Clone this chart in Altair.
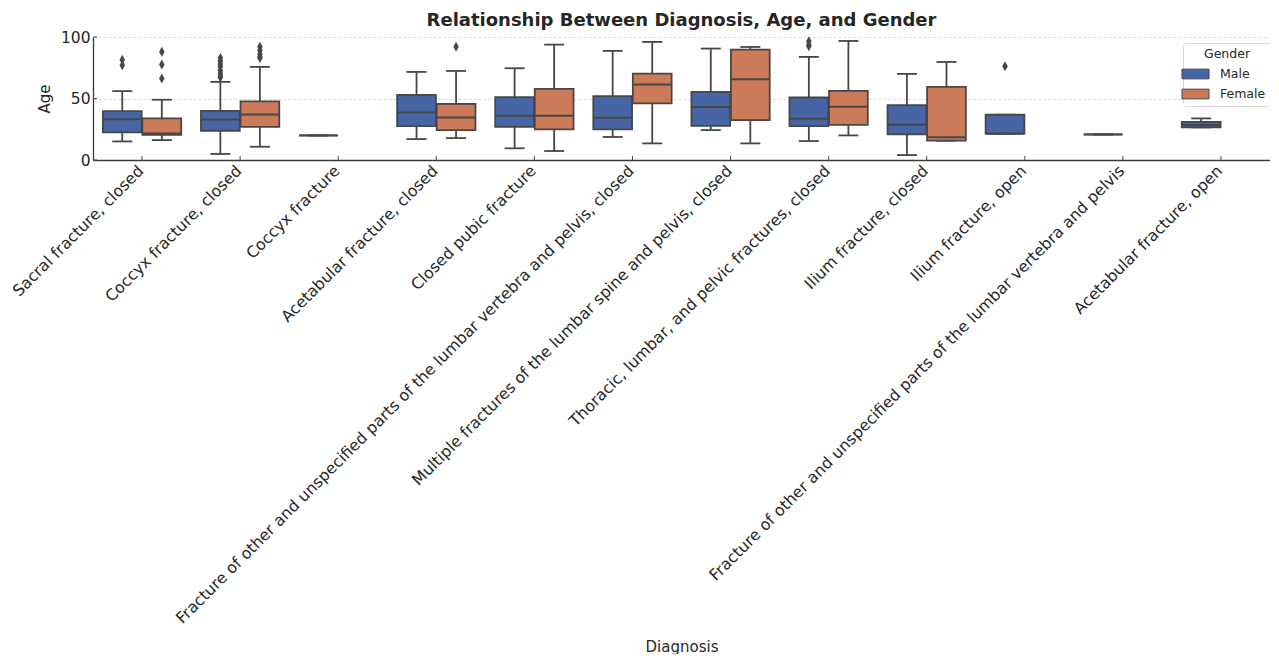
import altair as alt
import pandas as pd

diagnoses = [
    "Sacral fracture, closed",
    "Coccyx fracture, closed",
    "Coccyx fracture",
    "Acetabular fracture, closed",
    "Closed pubic fracture",
    "Fracture of other and unspecified parts of the lumbar vertebra and pelvis, closed",
    "Multiple fractures of the lumbar spine and pelvis, closed",
    "Thoracic, lumbar, and pelvic fractures, closed",
    "Ilium fracture, closed",
    "Ilium fracture, open",
    "Fracture of other and unspecified parts of the lumbar vertebra and pelvis",
    "Acetabular fracture, open",
]
genders = ["Male", "Female"]
colors = ["#4765A5", "#CC7B5A"]
edge = "#474747"

box_diag = [0, 0, 1, 1, 2, 3, 3, 4, 4, 5, 5, 6, 6, 7, 7, 8, 8, 9, 10, 11]
box_gender = ["Male", "Female", "Male", "Female", "Male", "Male", "Female", "Male", "Female",
              "Male", "Female", "Male", "Female", "Male", "Female", "Male", "Female", "Male",
              "Male", "Male"]
whisker_low = [15.1, 16.2, 4.9, 10.8, 20.0, 17.0, 17.8, 9.5, 7.3, 18.7, 13.5, 24.3, 13.5,
               15.4, 20.0, 4.0, 15.7, 21.4, 20.8, 26.5]
q1 = [22.4, 20.5, 23.8, 27.0, 20.0, 27.6, 24.3, 27.0, 24.9, 24.9, 46.0, 27.8, 32.4,
      27.6, 28.6, 20.8, 15.7, 21.4, 20.8, 26.5]
median = [33.2, 21.5, 33.0, 37.0, 20.0, 38.7, 34.6, 36.0, 36.0, 34.3, 61.4, 43.0, 65.7,
          33.5, 43.2, 28.6, 18.4, 21.4, 20.8, 28.4]
q3 = [39.7, 33.8, 40.0, 47.6, 20.0, 53.0, 45.7, 51.1, 57.8, 51.9, 70.3, 55.4, 89.7,
      50.8, 56.2, 44.6, 59.5, 36.8, 20.8, 31.0]
whisker_high = [56.0, 49.0, 63.5, 75.7, 20.0, 71.6, 72.4, 74.6, 93.8, 88.7, 96.0, 90.6, 91.9,
                83.8, 96.8, 70.0, 79.7, 36.8, 20.8, 33.8]

outlier_diag = [0, 0, 0, 0, 0, 1, 1, 1, 1, 1, 1, 1, 1, 1, 1, 1, 1, 1, 3, 7, 7, 7, 9]
outlier_gender = ["Male", "Male", "Female", "Female", "Female",
                  "Male", "Male", "Male", "Male", "Male", "Male", "Male", "Male",
                  "Female", "Female", "Female", "Female", "Female",
                  "Female", "Male", "Male", "Male", "Male"]
outlier_age = [81.6, 77.0, 88.0, 77.6, 66.2,
               83.0, 80.5, 78.0, 76.0, 73.0, 70.5, 68.5, 67.0,
               92.0, 89.0, 86.0, 84.0, 83.0,
               92.0, 96.5, 94.0, 92.5, 76.2]

y_ticks = [0, 50, 100]

W, H = 1177, 123

stats = pd.DataFrame({
    "Diagnosis": [diagnoses[i] for i in box_diag],
    "Gender": box_gender,
    "lo": whisker_low, "q1": q1, "med": median, "q3": q3, "hi": whisker_high,
})
outliers = pd.DataFrame({
    "Diagnosis": [diagnoses[i] for i in outlier_diag],
    "Gender": outlier_gender,
    "Age": outlier_age,
})
cats = pd.DataFrame({"Diagnosis": diagnoses})
yt = pd.DataFrame({"v": y_ticks})

xenc = alt.X("Diagnosis:N", sort=diagnoses,
             scale=alt.Scale(domain=diagnoses, paddingInner=0, paddingOuter=0),
             axis=alt.Axis(title="Diagnosis", labelAngle=-45, labelAlign="right",
                           labelBaseline="top", labelFontSize=15.8, labelPadding=3,
                           labelOffset=-6, labelLimit=1000, tickSize=0,
                           titleFontSize=15, titleFontWeight="normal",
                           titleY=486, titleBaseline="middle"))
xoff = alt.XOffset("Gender:N", scale=alt.Scale(domain=genders, paddingInner=0.02,
                                                paddingOuter=0.25))
yscale = alt.Scale(domain=[0, 100], nice=False, zero=False)
yaxis = alt.Axis(title="Age", values=y_ticks, tickSize=0, labelFontSize=15.5, labelPadding=3,
                 titleFontSize=15, titleFontWeight="normal", titlePadding=8,
                 grid=True, gridDash=[3, 2], gridColor="#d0d0d0", gridWidth=0.8)

base = alt.Chart(stats)

whisk_lo = base.mark_rule(color=edge, strokeWidth=1.8).encode(
    x=xenc, xOffset=xoff, y=alt.Y("lo:Q", scale=yscale, axis=yaxis), y2="q1:Q")
whisk_hi = base.mark_rule(color=edge, strokeWidth=1.8).encode(
    x=xenc, xOffset=xoff, y=alt.Y("q3:Q", scale=yscale, axis=yaxis), y2="hi:Q")
cap_lo = base.mark_tick(color=edge, size=20, thickness=1.8, opacity=1).encode(
    x=xenc, xOffset=xoff, y=alt.Y("lo:Q", scale=yscale, axis=yaxis))
cap_hi = base.mark_tick(color=edge, size=20, thickness=1.8, opacity=1).encode(
    x=xenc, xOffset=xoff, y=alt.Y("hi:Q", scale=yscale, axis=yaxis))
boxes = base.mark_bar(stroke=edge, strokeWidth=1.8, opacity=1).encode(
    x=xenc, xOffset=xoff,
    y=alt.Y("q1:Q", scale=yscale, axis=yaxis), y2="q3:Q",
    color=alt.Color("Gender:N", scale=alt.Scale(domain=genders, range=colors),
                    legend=alt.Legend(title="Gender", orient="none", legendX=1090, legendY=6,
                                      titleAnchor="middle", titleFontSize=12.5,
                                      titleFontWeight="normal", labelFontSize=12.5,
                                      symbolType="M-2,-0.72H2V0.72H-2Z", symbolSize=182,
                                      symbolStrokeColor=edge, symbolStrokeWidth=1,
                                      symbolOpacity=1,
                                      strokeColor="#d8d8d8", fillColor="white",
                                      padding=5, cornerRadius=3, labelOffset=17,
                                      rowPadding=5, titlePadding=6, offset=0)))
meds = base.mark_tick(color=edge, size=38.7, thickness=2, opacity=1).encode(
    x=xenc, xOffset=xoff, y=alt.Y("med:Q", scale=yscale, axis=yaxis))
pts = alt.Chart(outliers).mark_point(
    shape="M0,-1L0.55,0L0,1L-0.55,0Z", filled=True, color=edge, size=100, opacity=1
).encode(x=xenc, xOffset=xoff, y=alt.Y("Age:Q", scale=yscale, axis=yaxis))
xticks = alt.Chart(cats).mark_rule(color=edge, strokeWidth=1).encode(
    x=xenc, y=alt.value(H), y2=alt.value(H - 4))
yticks = alt.Chart(yt).mark_rule(color=edge, strokeWidth=1).encode(
    y=alt.Y("v:Q", scale=yscale, axis=yaxis), x=alt.value(0), x2=alt.value(4))

chart = alt.layer(whisk_lo, whisk_hi, cap_lo, cap_hi, boxes, meds, pts, xticks, yticks).properties(
    width=W, height=H,
    title=alt.Title("Relationship Between Diagnosis, Age, and Gender", fontSize=18,
                    fontWeight="bold", color="#262626", offset=0),
    autosize=alt.AutoSizeParams(type="none"),
    padding={"left": 85, "top": 29, "right": 0, "bottom": 494},
).configure(font="DejaVu Sans").configure_view(stroke=None).configure_axis(
    domainColor="#3a3a3a", domainWidth=1.3, labelColor="#262626", titleColor="#262626",
    labelFont="DejaVu Sans", titleFont="DejaVu Sans"
).configure_axisY(grid=True).configure_axisX(grid=False).configure_legend(
    labelColor="#262626", titleColor="#262626", labelFont="DejaVu Sans", titleFont="DejaVu Sans")

chart.save("out.html", embed_options={"renderer": "svg", "actions": False})
